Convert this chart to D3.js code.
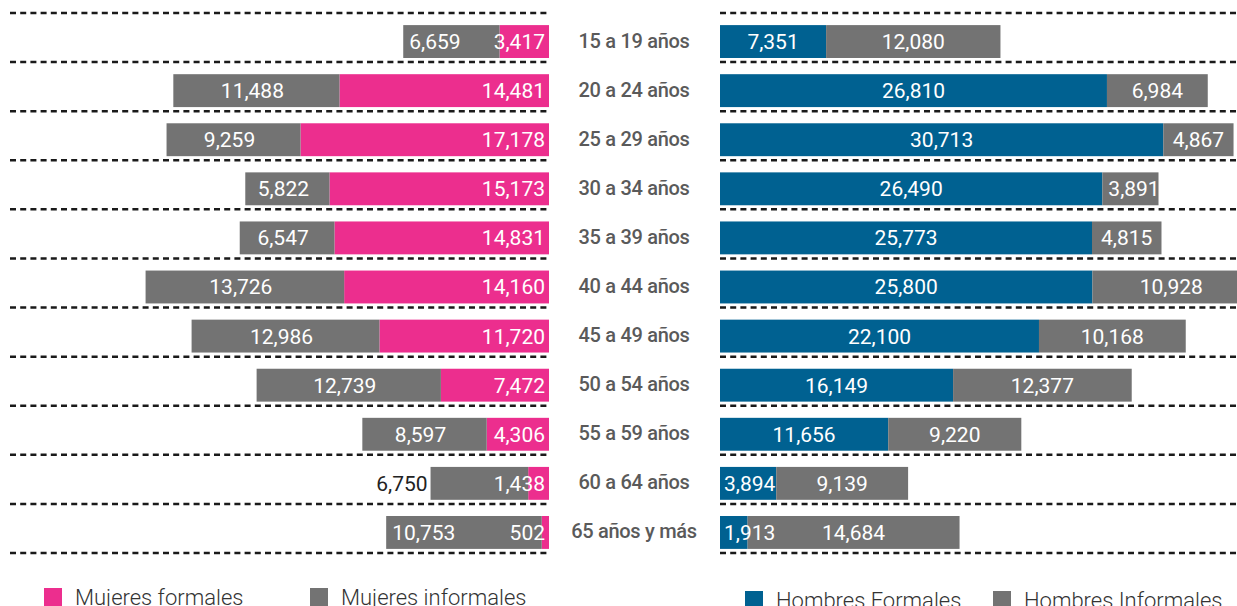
<!DOCTYPE html>
<html>
<head>
  <meta charset="utf-8">
  <title>Población ocupada por edad, sexo y formalidad</title>
  <script src="https://cdn.jsdelivr.net/npm/d3@7"></script>
  <style>
    html, body { margin: 0; padding: 0; background: #fff; overflow: hidden; }
    svg { display: block; font-family: "Roboto", "Open Sans", sans-serif; }
    .val { font-size: 21px; fill: #fff; }
    .val.outside { fill: #222; }
    .age { font-size: 20px; font-weight: 500; fill: #5a5a5a; letter-spacing: -0.3px; }
    .legend text { font-size: 22px; fill: #333; font-weight: 300; }
    .grid { stroke: #1a1a1a; stroke-width: 2.5; stroke-dasharray: 6,4.2; }
  </style>
</head>
<body>
<svg id="chart" width="1237" height="606"></svg>
<script>
  var edades = ['15 a 19 años', '20 a 24 años', '25 a 29 años', '30 a 34 años',
    '35 a 39 años', '40 a 44 años', '45 a 49 años', '50 a 54 años',
    '55 a 59 años', '60 a 64 años', '65 años y más'];
  var mujeresFormales   = [3417, 14481, 17178, 15173, 14831, 14160, 11720, 7472, 4306, 1438, 502];
  var mujeresInformales = [6659, 11488, 9259, 5822, 6547, 13726, 12986, 12739, 8597, 6750, 10753];
  var hombresFormales   = [7351, 26810, 30713, 26490, 25773, 25800, 22100, 16149, 11656, 3894, 1913];
  var hombresInformales = [12080, 6984, 4867, 3891, 4815, 10928, 10168, 12377, 9220, 9139, 14684];

  var rosa = '#ec2e8e', gris = '#737373', azul = '#006191';
  var fmt = d3.format(',');

  var svg = d3.select('#chart');

  var y = d3.scaleBand().domain(edades).range([13, 553]).paddingInner(0.33).paddingOuter(0.165);
  var step = y.step();

  // both sides share the same px per person
  var xL = d3.scaleLinear().domain([0, 30000]).range([549, 549 - 434]);
  var xR = d3.scaleLinear().domain([0, 30000]).range([720, 720 + 433]);

  // dashed separators at the row boundaries
  var lines = d3.range(edades.length + 1).map(function(i) { return 13 + i * step; });
  svg.append('g').selectAll('line.l').data(lines).join('line')
      .attr('class', 'grid').attr('x1', 10).attr('x2', 549)
      .attr('y1', function(d) { return d; }).attr('y2', function(d) { return d; });
  svg.append('g').selectAll('line.r').data(lines).join('line')
      .attr('class', 'grid').attr('x1', 720).attr('x2', 1237)
      .attr('y1', function(d) { return d; }).attr('y2', function(d) { return d; });

  var rows = svg.append('g').selectAll('g').data(edades).join('g')
      .attr('transform', function(d) { return 'translate(0,' + (y(d) + 4) + ')'; });
  var h = y.bandwidth();

  rows.each(function(edad, i) {
    var g = d3.select(this);
    var ty = h / 2 + 7.5;

    // --- mujeres (hacia la izquierda)
    var mf = mujeresFormales[i], mi = mujeresInformales[i];
    g.append('rect').attr('x', xL(mf)).attr('y', 0)
        .attr('width', xL(0) - xL(mf)).attr('height', h).attr('fill', rosa);
    g.append('rect').attr('x', xL(mf + mi)).attr('y', 0)
        .attr('width', xL(mf) - xL(mf + mi)).attr('height', h).attr('fill', gris);

    var pinkLab = g.append('text').attr('class', 'val')
        .attr('x', xL(0) - 4).attr('y', ty).attr('text-anchor', 'end').text(fmt(mf));
    var pw = pinkLab.node().getComputedTextLength();
    var pinkSeg = xL(0) - xL(mf);

    var grayLab = g.append('text').attr('class', 'val').attr('y', ty).text(fmt(mi));
    var gw = grayLab.node().getComputedTextLength();
    var graySeg = xL(mf) - xL(mf + mi);
    if (pw + 6 <= pinkSeg) {
      grayLab.attr('x', (xL(mf) + xL(mf + mi)) / 2 - 4).attr('text-anchor', 'middle');
    } else {
      var room = graySeg - (pw + 6 - pinkSeg);
      if (gw + 28 <= room) {
        grayLab.attr('x', xL(mf + mi) + 6).attr('text-anchor', 'start');
      } else {
        grayLab.attr('x', xL(mf + mi) - 3).attr('text-anchor', 'end').classed('outside', true);
      }
    }

    // --- etiqueta central
    g.append('text').attr('class', 'age')
        .attr('x', 634).attr('y', h / 2 + 6).attr('text-anchor', 'middle').text(edad);

    // --- hombres (hacia la derecha)
    var hf = hombresFormales[i], hi = hombresInformales[i];
    g.append('rect').attr('x', xR(0)).attr('y', 0)
        .attr('width', xR(hf) - xR(0)).attr('height', h).attr('fill', azul);
    g.append('rect').attr('x', xR(hf)).attr('y', 0)
        .attr('width', xR(hf + hi) - xR(hf)).attr('height', h).attr('fill', gris);

    var blueLab = g.append('text').attr('class', 'val').attr('y', ty).text(fmt(hf));
    var bw = blueLab.node().getComputedTextLength();
    if (bw + 8 <= xR(hf) - xR(0)) {
      blueLab.attr('x', (xR(0) + xR(hf)) / 2).attr('text-anchor', 'middle');
    } else {
      blueLab.attr('x', xR(0) + 4).attr('text-anchor', 'start');
    }
    var hgLab = g.append('text').attr('class', 'val').attr('y', ty).text(fmt(hi));
    var hw = hgLab.node().getComputedTextLength();
    if (hw + 8 <= xR(hf + hi) - xR(hf)) {
      hgLab.attr('x', (xR(hf) + xR(hf + hi)) / 2).attr('text-anchor', 'middle');
    } else {
      hgLab.attr('x', xR(hf) + 6).attr('text-anchor', 'start');
    }
  });

  // leyendas
  var leyenda = [
    {t: 'Mujeres formales', c: rosa, x: 44, y: 588},
    {t: 'Mujeres informales', c: gris, x: 310, y: 588},
    {t: 'Hombres Formales', c: azul, x: 745, y: 591},
    {t: 'Hombres Informales', c: gris, x: 993, y: 591}
  ];
  var lg = svg.append('g').attr('class', 'legend').selectAll('g').data(leyenda).join('g')
      .attr('transform', function(d) { return 'translate(' + d.x + ',' + d.y + ')'; });
  lg.append('rect').attr('width', 18).attr('height', 18).attr('fill', function(d) { return d.c; });
  lg.append('text').attr('x', 31).attr('y', 17).text(function(d) { return d.t; });
</script>
</body>
</html>
